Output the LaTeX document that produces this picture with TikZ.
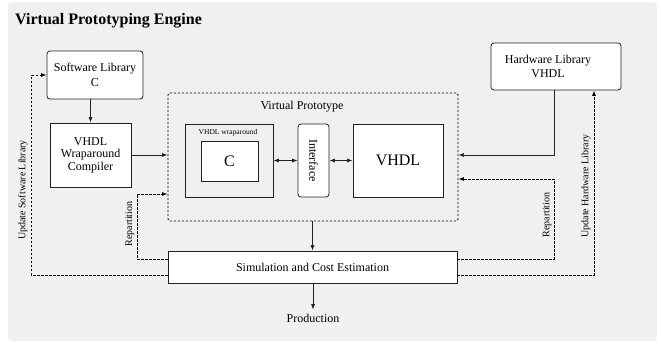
\documentclass[tikz,border=0pt]{standalone}
\usepackage{fontspec}
\setmainfont{Liberation Serif}
\usetikzlibrary{arrows.meta,calc}
\definecolor{bgc}{HTML}{F0F0F0}
\definecolor{ln}{HTML}{222222}
\tikzset{
  every node/.style={text=black},
  box/.style={draw=ln, line width=0.8pt, fill=white, inner sep=0pt, align=center, font=\fontsize{12}{12.5}\selectfont},
  rbox/.style={box, rounded corners=3pt},
  conn/.style={draw=ln, line width=0.7pt},
  arr/.style={conn, -{Latex[length=5.5pt,width=4pt]}},
  darr/.style={conn, {Latex[length=5.5pt,width=4pt]}-{Latex[length=5.5pt,width=4pt]}},
  dsh/.style={draw=black, line width=0.9pt, dash pattern=on 2.2pt off 1.8pt},
  lbl/.style={font=\fontsize{10}{12}\selectfont, inner sep=0pt, rotate=90},
  txt/.style={font=\fontsize{12}{12.5}\selectfont, inner sep=0pt, align=center}
}
\begin{document}
\begin{tikzpicture}[x=1pt,y=-1pt]
\useasboundingbox (0,0) rectangle (661,343);
\fill[bgc, rounded corners=4pt] (8,2) rectangle (657,341);
\node[font=\bfseries\fontsize{16}{19}\selectfont, anchor=base west, inner sep=0pt] (title) at (15,24) {Virtual Prototyping Engine};

% boxes
\node[rbox, minimum width=96pt, minimum height=48pt] (swlib) at (95,75) {Software Library\\[2pt]C};
\node[box, minimum width=81pt, minimum height=64pt] (comp) at (90.5,155) {VHDL\\Wraparound\\Compiler};
\node[dsh, rounded corners=2pt, minimum width=290pt, minimum height=128pt, inner sep=0pt] (vp) at (313,157) {};
\node[txt] (vplabel) at (302,107) {Virtual Prototype};
\node[box, fill=bgc, minimum width=88pt, minimum height=73pt] (wrap) at (229,160.5) {};
\node[font=\fontsize{7.5}{8}\selectfont, inner sep=0pt] (wraplabel) at (228,132.5) {VHDL wraparound};
\node[box, minimum width=57pt, minimum height=40pt, font=\fontsize{16}{18}\selectfont] (cbox) at (229.5,161) {C};
\node[rbox, minimum width=31pt, minimum height=73pt] (iface) at (313.5,160.5) {};
\node[txt, rotate=-90] (ifacetext) at (313.5,160.5) {Interface};
\node[box, minimum width=90pt, minimum height=73pt, font=\fontsize{16}{18}\selectfont] (vhdl) at (398,160.5) {VHDL};
\node[rbox, minimum width=130pt, minimum height=47pt] (hwlib) at (556,66.5) {};
\node[txt] (hwtext) at (548,66.5) {Hardware Library\\[2pt]VHDL};
\node[box, minimum width=289pt, minimum height=32pt] (sim) at (312.5,267) {Simulation and Cost Estimation};
\node[txt, inner sep=4pt] (prod) at (313,318) {Production};

% solid connectors
\draw[arr] (comp.north |- swlib.south) -- (comp.north);
\draw[arr] (comp.east) -- (comp.east -| vp.west);
\draw[darr] (wrap.east) -- (iface.west);
\draw[darr] (iface.east) -- (vhdl.west);
\draw[arr] ([xshift=-2pt]hwlib.south) |- (vp.east |- comp.east);
\draw[arr] (vp.south -| sim.north) -- (sim.north);
\draw[arr] (sim.south -| prod.north) -- (prod.north);

% dashed feedback connectors
\coordinate (rpr) at (554,179);
\coordinate (rpl) at (137,194);
\draw[arr, dsh] ([yshift=8pt]sim.east) -| (rpr) -- (rpr -| vp.east);
\draw[arr, dsh] ([yshift=-8pt]sim.east) -| ([xshift=38pt]hwlib.south);
\draw[arr, dsh] ([yshift=8pt]sim.west) -| (rpl) -- (rpl -| vp.west);
\draw[arr, dsh] ([yshift=-8pt]sim.west) -| ([xshift=-15pt]swlib.west) -- (swlib.west);

% rotated labels
\node[lbl] (lblus) at (23,190) {Update Software Library};
\node[lbl] (lbluh) at (586,186) {Update Hardware Library};
\node[lbl] (lblrl) at (130,224) {Repartition};
\node[lbl] (lblrr) at (547,215) {Repartition};
\end{tikzpicture}
\end{document}
